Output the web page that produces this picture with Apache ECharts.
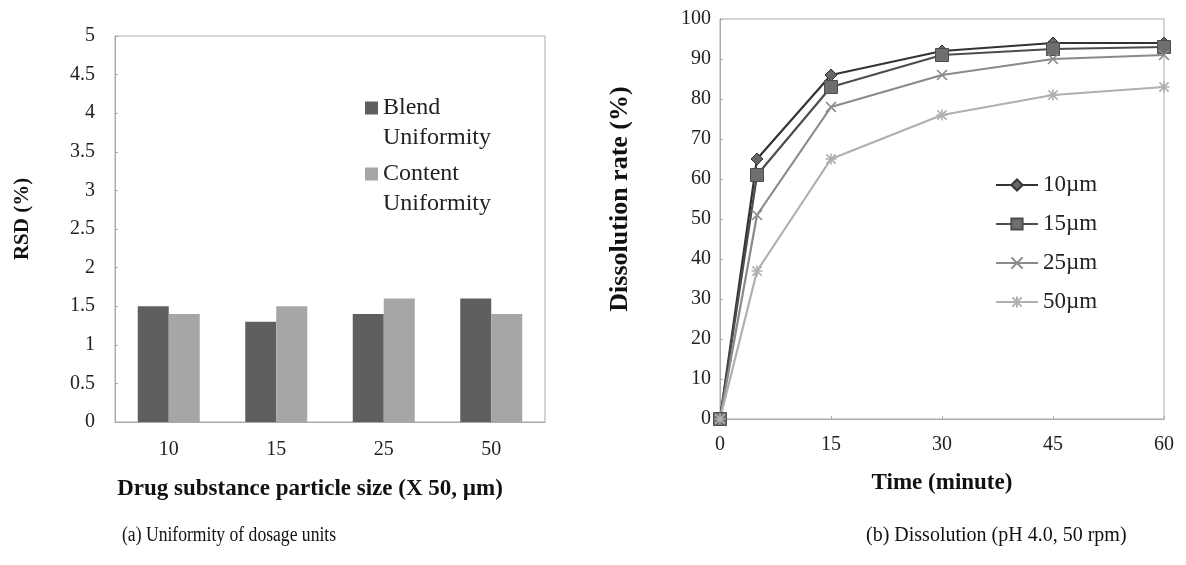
<!DOCTYPE html>
<html>
<head>
<meta charset="utf-8">
<script src="https://cdn.jsdelivr.net/npm/echarts@6/dist/echarts.min.js"></script>
<style>
  html, body { margin: 0; padding: 0; background: #fff; }
  #main { width: 1186px; height: 565px; }
</style>
</head>
<body>
<div id="main"></div>
<script>
// (a) uniformity of dosage units
var sizes = ['10', '15', '25', '50'];
var blendRSD = [1.5, 1.3, 1.4, 1.6];
var contentRSD = [1.4, 1.5, 1.6, 1.4];

// (b) dissolution, pH 4.0
var times = [0, 5, 15, 30, 45, 60];
var diss10 = [0, 65, 86, 92, 94, 94];
var diss15 = [0, 61, 83, 91, 92.5, 93];
var diss25 = [0, 51, 78, 86, 90, 91];
var diss50 = [0, 37, 65, 76, 81, 83];

var serif = 'Liberation Serif';
var crossPath = 'path://M0,0L10,10M10,0L0,10';
var starPath = 'path://M0,0L10,10M10,0L0,10M5,-1L5,11M-1,5L11,5';
// square sitting on the first of two text lines
var legendBox = 'path://M0,8.5H13V21.5H0Z M0,0H0.01V0.01H0Z M0,59.99H0.01V60H0Z';

function pairs(ys) {
    return times.map(function (t, i) { return [t, ys[i]]; });
}

function lineSeries(name, data, color, fill, symbol, size, stroke) {
    return {
        name: name,
        type: 'line',
        xAxisIndex: 1,
        yAxisIndex: 1,
        data: pairs(data),
        symbol: symbol,
        symbolSize: size,
        showAllSymbol: true,
        lineStyle: { color: color, width: 2.2 },
        itemStyle: stroke
            ? { color: color, borderColor: color, borderWidth: 1.6 }
            : { color: fill, borderColor: color, borderWidth: 1 },
        z: 5
    };
}

var tickText = { color: '#222', fontFamily: serif, fontSize: 20 };

var option = {
    backgroundColor: '#fff',
    animation: false,
    grid: [
        { left: 115, top: 36, right: 641, bottom: 143, show: true, borderColor: '#aaa', borderWidth: 1 },
        { left: 720, top: 19, right: 22, bottom: 146, show: true, borderColor: '#aaa', borderWidth: 1 }
    ],
    legend: [
        {
            data: ['Blend Uniformity', 'Content Uniformity'],
            orient: 'vertical',
            left: 365, top: 93, padding: 0,
            itemWidth: 13, itemHeight: 60, itemGap: 6,
            icon: legendBox,
            formatter: function (n) { return n.replace(' ', '\n'); },
            textStyle: { color: '#222', fontFamily: serif, fontSize: 24, lineHeight: 30 }
        },
        {
            data: ['10µm', '15µm', '25µm', '50µm'],
            orient: 'vertical',
            left: 995, top: 172, padding: 0,
            itemWidth: 42, itemHeight: 14, itemGap: 13,
            textStyle: { color: '#222', fontFamily: serif, fontSize: 23, lineHeight: 26 }
        }
    ],
    xAxis: [
        {
            type: 'category', gridIndex: 0, data: sizes,
            axisLine: { lineStyle: { color: '#aaa' } },
            axisTick: { show: false },
            axisLabel: Object.assign({ margin: 18 }, tickText),
            name: 'Drug substance particle size (X 50, µm)',
            nameLocation: 'middle', nameGap: 56,
            nameTextStyle: { color: '#111', fontFamily: serif, fontSize: 23, fontWeight: 'bold', padding: [0, 40, 0, 0] }
        },
        {
            type: 'value', gridIndex: 1, min: 0, max: 60, interval: 15,
            axisLine: { lineStyle: { color: '#aaa' } },
            axisTick: { inside: true, length: 3, lineStyle: { color: '#aaa' } },
            splitLine: { show: false },
            axisLabel: Object.assign({ margin: 16 }, tickText),
            name: 'Time (minute)',
            nameLocation: 'middle', nameGap: 53,
            nameTextStyle: { color: '#111', fontFamily: serif, fontSize: 23, fontWeight: 'bold' }
        }
    ],
    yAxis: [
        {
            type: 'value', gridIndex: 0, min: 0, max: 5, interval: 0.5,
            axisLine: { show: true, lineStyle: { color: '#aaa' } },
            axisTick: { show: true, inside: true, length: 3, lineStyle: { color: '#aaa' } },
            splitLine: { show: false },
            axisLabel: Object.assign({ margin: 20 }, tickText),
            name: 'RSD (%)',
            nameLocation: 'middle', nameGap: 82,
            nameTextStyle: { color: '#111', fontFamily: serif, fontSize: 21, fontWeight: 'bold', padding: [0, 0, 0, 20] }
        },
        {
            type: 'value', gridIndex: 1, min: 0, max: 100, interval: 10,
            axisLine: { show: true, lineStyle: { color: '#aaa' } },
            axisTick: { show: true, inside: true, length: 3, lineStyle: { color: '#aaa' } },
            splitLine: { show: false },
            axisLabel: Object.assign({ margin: 9 }, tickText),
            name: 'Dissolution rate (%)',
            nameLocation: 'middle', nameGap: 87,
            nameTextStyle: { color: '#111', fontFamily: serif, fontSize: 26, fontWeight: 'bold', padding: [0, 0, 0, 40] }
        }
    ],
    series: [
        {
            name: 'Blend Uniformity', type: 'bar', xAxisIndex: 0, yAxisIndex: 0,
            data: blendRSD, barWidth: 31, barGap: '0%',
            itemStyle: { color: '#5f5f5f' }
        },
        {
            name: 'Content Uniformity', type: 'bar', xAxisIndex: 0, yAxisIndex: 0,
            data: contentRSD, barWidth: 31, barGap: '0%',
            itemStyle: { color: '#a6a6a6' }
        },
        lineSeries('10µm', diss10, '#333333', '#666666', 'diamond', 12, false),
        lineSeries('15µm', diss15, '#4d4d4d', '#6e6e6e', 'rect', 13, false),
        lineSeries('25µm', diss25, '#8a8a8a', '#8a8a8a', crossPath, 10, true),
        lineSeries('50µm', diss50, '#b0b0b0', '#b0b0b0', starPath, 11, true)
    ],
    graphic: [
        {
            type: 'text', left: 122, top: 526, scaleX: 0.88,
            style: { text: '(a) Uniformity of dosage units', fill: '#111', font: '20px "Liberation Serif"' }
        },
        {
            type: 'text', left: 866, top: 526, scaleX: 1,
            style: { text: '(b) Dissolution (pH 4.0, 50 rpm)', fill: '#111', font: '20px "Liberation Serif"' }
        }
    ]
};

echarts.init(document.getElementById('main')).setOption(option);
</script>
</body>
</html>
